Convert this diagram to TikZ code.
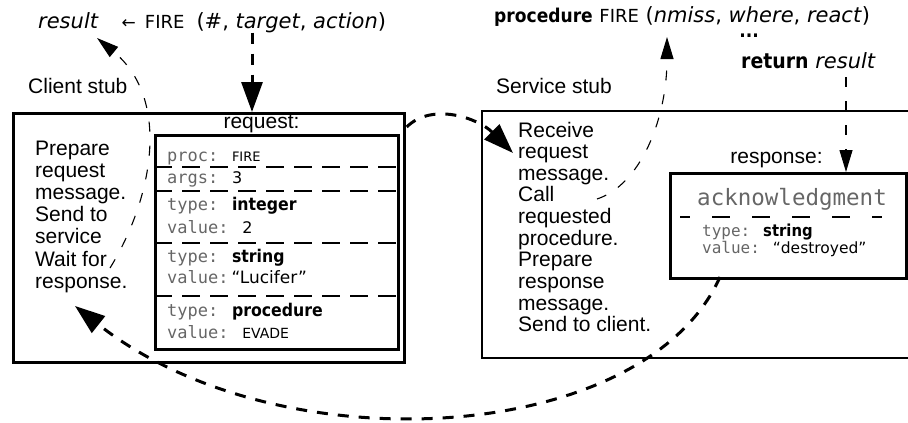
\documentclass[tikz,border=0pt]{standalone}
\usepackage{fontspec}
\setmainfont{Liberation Sans}
\newfontfamily\vfont{DejaVu Sans}
\newfontfamily\bfont[FakeStretch=0.9]{DejaVu Sans}
\newfontfamily\mfont{DejaVu Sans Mono}
\usetikzlibrary{arrows.meta,calc}
\newcommand\fsz[2]{\fontsize{#1pt}{#2pt}\selectfont}
\newcommand\stackl[1]{\begin{tabular}[t]{@{}l@{}}#1\end{tabular}}
\newcommand\kw[1]{{\color{black!60}\mfont #1}}
\newcommand\bw[1]{{\bfont\bfseries #1}}
\tikzset{
  box/.style={draw, line width=2.6pt, inner sep=0pt, rectangle, anchor=north west},
  fld/.style={inner sep=0pt, anchor=base west},
  lbl/.style={inner sep=0pt, font=\fsz{21}{21}},
  rowtxt/.style={fld, font=\mfont\fsz{17}{17}},
  sepline/.style={line width=2.6pt, dash pattern=on 18pt off 10pt},
  thickarr/.style={line width=3pt, dash pattern=on 11pt off 10pt, -{Triangle[length=30pt,width=21pt]}},
  thinarr/.style={line width=1.1pt, dash pattern=on 10pt off 14pt, -{Triangle[length=22pt,width=13pt]}},
}
\begin{document}
\begin{tikzpicture}[x=1pt,y=-1pt]
\useasboundingbox (0,0) rectangle (908,423);

% top calls
\node[fld, font=\vfont\fsz{21}{21}] (callL) at (38,28)
  {\textit{result}\hspace{23pt}{\fsz{17}{17}←}\hspace{9pt}{\fsz{18}{18}FIRE}\hspace{12pt}(\#, \textit{target}, \textit{action})};
\node[fld, font=\vfont\fsz{21}{21}] (callR) at (494,23)
  {{\bw{\fsz{19}{19}procedure}} {\fsz{18}{18}FIRE} (\textit{nmiss}, \textit{where}, \textit{react})};
\node[inner sep=0pt, anchor=base, font=\bfont\bfseries\fsz{19}{19}] (dots) at (749,37) {...};
\node[fld, font=\vfont\fsz{21}{21}] (retR) at (741,68)
  {\bw{\fsz{21}{21}return} \textit{result}};

% stub labels
\node[lbl, fld] (cstub) at (28,93) {Client stub};
\node[lbl, fld] (sstub) at (496,93) {Service stub};

% client box
\node[box, minimum width=391pt, minimum height=249pt] (client) at (12,112) {};
\node[lbl, anchor=base] (reqlbl) at (261.5,128) {request:};
\node[box, minimum width=243pt, minimum height=214pt] (req) at (154,134) {};
\draw[sepline] (154,167) -- (397,167);
\draw[sepline] (154,191) -- (397,191);
\draw[sepline] (154,243) -- (397,243);
\draw[sepline] (154,296) -- (397,296);

\node[fld, font=\fsz{21}{22.2}] (ctext) at (35,155)
  {\stackl{Prepare\\request\\message.\\Send to\\service\\Wait for\\response.}};

\node[rowtxt] (r1) at (167,161) {\kw{proc: }{\vfont\fsz{13}{13}FIRE}};
\node[rowtxt] (r2) at (167,183) {\kw{args: }{\vfont\fsz{16}{16}3}};
\node[rowtxt] (r3) at (167,210) {\kw{type: }{\fsz{17.5}{17.5}\bw{integer}}};
\node[rowtxt] (r4) at (167,233) {\kw{value: }{\vfont\fsz{16}{16}2}};
\node[rowtxt] (r5) at (167,262) {\kw{type: }{\fsz{17.5}{17.5}\bw{string}}};
\node[rowtxt] (r6) at (167,283) {\kw{value:}\hspace{3pt}{\vfont\fsz{17}{17}“Lucifer”}};
\node[rowtxt] (r7) at (167,316) {\kw{type: }{\fsz{17.5}{17.5}\bw{procedure}}};
\node[rowtxt] (r8) at (167,338) {\kw{value: }{\vfont\fsz{14}{14}EVADE}};

% service box (runs off the right edge)
\draw[line width=2.6pt] (908,111) -- (482,111) -- (482,358) -- (908,358);
\node[fld, font=\fsz{21}{21.6}] (stext) at (518,137)
  {\stackl{Receive\\request\\message.\\Call\\requested\\procedure.\\Prepare\\response\\message.\\Send to client.}};
\node[lbl, anchor=base] (resplbl) at (776.5,163) {response:};
\node[box, minimum width=236pt, minimum height=105pt] (resp) at (669,172) {};
\node[fld, font=\mfont\fsz{22.5}{22.5}, color=black!60] (ack) at (697,205) {acknowledgment};
\draw[line width=2.6pt, dash pattern=on 18pt off 22pt, dash phase=8pt] (680,217) -- (882,217);
\node[fld, font=\mfont\fsz{16}{16}] (q1) at (702,236) {\kw{type: }{\fsz{16.5}{16.5}\bw{string}}};
\node[fld, font=\mfont\fsz{16}{16}] (q2) at (702,253) {\kw{value: }{\vfont\fsz{15.5}{15.5}“destroyed”}};

% connector anchors
\coordinate (a1x) at (252,0);
\coordinate (a5x) at (846,0);
\coordinate (wstart) at (110,268);
\coordinate (resT) at (97,38);
\coordinate (recvT) at (513,153);
\coordinate (callS) at (597,199);
\coordinate (procT) at (667,37);
\coordinate (respS) at (720,277);
\coordinate (clientT) at (75,306);

% connectors
\draw[thickarr] (callL.south -| a1x) -- (client.north -| a1x);
\draw[thinarr] (wstart) .. controls (152,200) and (172,100) .. (resT);
\draw[thickarr, shorten <=10pt] (req.north east) .. controls (432,102) and (478,118) .. (recvT);
\draw[thinarr] (callS) .. controls (640,185) and (667,120) .. (procT);
\draw[thinarr, shorten <=9pt] (retR.south -| a5x) -- (resp.north -| a5x);
\draw[thickarr] (respS) .. controls (645,445) and (280,468) .. (clientT);
\end{tikzpicture}
\end{document}
